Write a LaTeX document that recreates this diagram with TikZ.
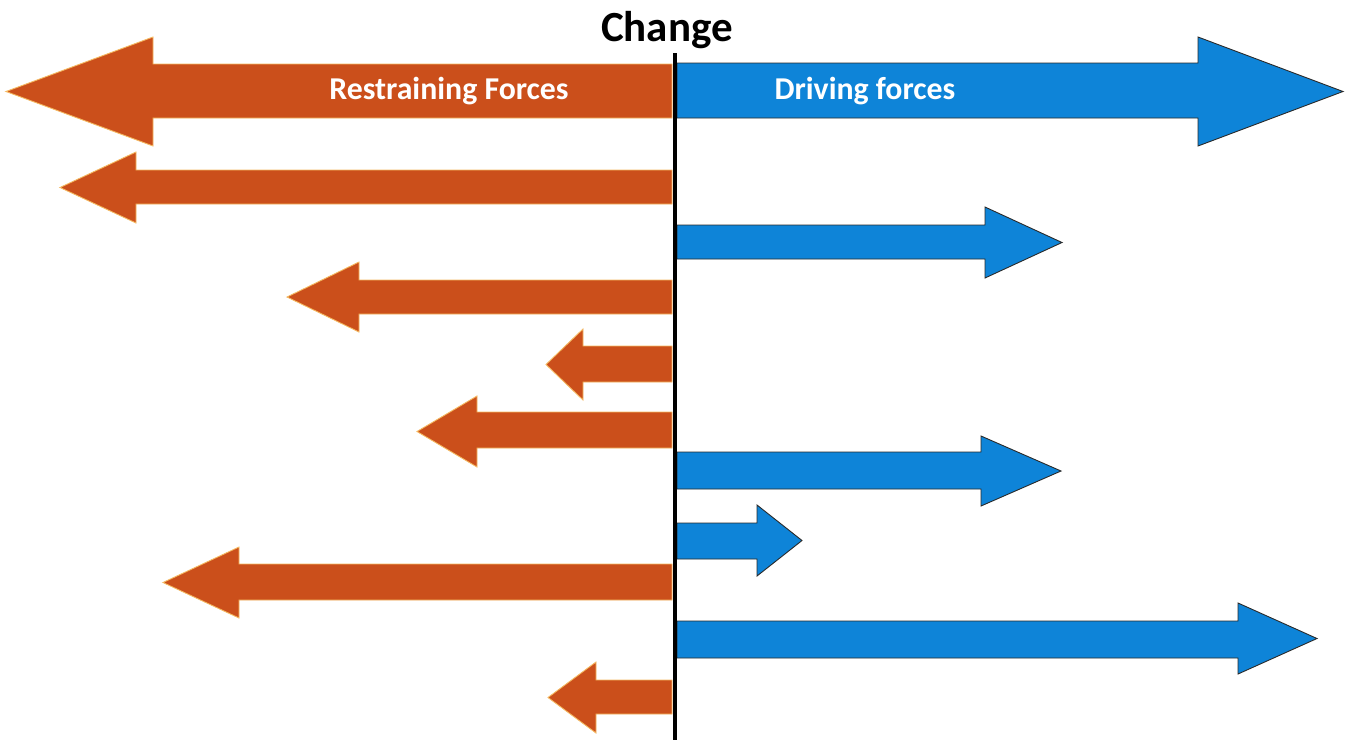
\documentclass[tikz,border=0pt]{standalone}
\usepackage{fontspec}
\setmainfont{Carlito}
\definecolor{rforce}{HTML}{CB4F1B}
\definecolor{rline}{HTML}{F4B860}
\definecolor{dforce}{HTML}{0E84D8}
\definecolor{dline}{HTML}{2A2A2A}
% tipx, tipy, headx, headtop, headbot, shafttop, shaftbot
\newcommand\forceL[7]{\draw[restrain] (672,#6) -- (#3,#6) -- (#3,#4) -- (#1,#2) -- (#3,#5) -- (#3,#7) -- (672,#7) -- cycle;}
\newcommand\forceR[7]{\draw[drive] (677,#6) -- (#3,#6) -- (#3,#4) -- (#1,#2) -- (#3,#5) -- (#3,#7) -- (677,#7) -- cycle;}
\begin{document}
\begin{tikzpicture}[x=1pt,y=-1pt,
  restrain/.style={fill=rforce,draw=rline,line width=0.9pt,line join=miter},
  drive/.style={fill=dforce,draw=dline,line width=0.9pt,line join=miter},
  lbl/.style={text=white,font=\bfseries\fontsize{31.8}{36}\selectfont,inner sep=0pt,anchor=base},
  title/.style={text=black,font=\bfseries\fontsize{43}{48}\selectfont,inner sep=0pt,anchor=base},
  axis/.style={draw=black,line width=3.5pt}]
\useasboundingbox (0,0) rectangle (1346,740);
% restraining forces
\forceL{6}{91.5}{153}{37}{146}{64}{118}
\forceL{60}{187.5}{136}{152}{223}{170}{204}
\forceL{287}{297}{359}{262}{332}{280}{314}
\forceL{546}{364.5}{583}{329}{400}{346}{382}
\forceL{417}{431.5}{477}{396}{467}{412}{448}
\forceL{163}{582.5}{239}{547}{618}{564}{600}
\forceL{548}{697.5}{596}{662}{733}{680}{714}
% driving forces
\forceR{1343}{91.5}{1198}{37}{146}{63}{118}
\forceR{1062}{242.5}{985}{207}{278}{225}{259}
\forceR{1061}{471}{981}{436}{506}{452}{489}
\forceR{802}{540.5}{757}{505}{576}{523}{559}
\forceR{1317}{638.5}{1238}{603}{674}{621}{658}
% axis
\coordinate (axtop) at (675,53);
\coordinate (axbot) at (675,740);
\draw[axis] (axtop) -- (axbot);
% labels
\node[title] (change) at (667,41) {Change};
\node[lbl] (restr) at (449,99) {Restraining Forces};
\node[lbl] (drv) at (865,99) {Driving forces};
\end{tikzpicture}
\end{document}
